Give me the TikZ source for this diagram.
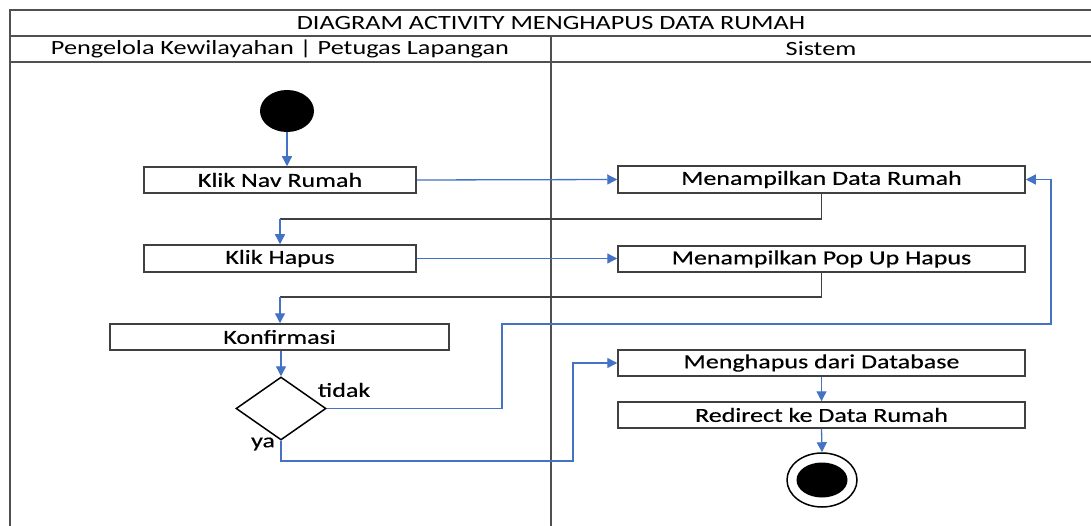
\documentclass[tikz,border=0pt]{standalone}
\usepackage{fontspec}
\setmainfont{Carlito}[FakeStretch=1.3]
\newfontfamily\actfont{Carlito}[FakeStretch=1.3,FakeBold=0.4]
\usetikzlibrary{arrows.meta,shapes.geometric}
\definecolor{flowblue}{HTML}{4472C4}
\definecolor{lanegray}{HTML}{505050}
\definecolor{boxgray}{HTML}{404040}
\tikzset{
  lane/.style={draw=lanegray,line width=1.5pt},
  act/.style={draw=boxgray,line width=1.5pt,fill=white,inner sep=0pt,
    font=\actfont\fontsize{20}{22}\selectfont,text=black},
  flow/.style={draw=flowblue,line width=1.3pt,-{Triangle[length=10pt,width=10pt]}},
  joinline/.style={draw=boxgray,line width=1.3pt},
  hdr/.style={font=\fontsize{20.2}{22}\selectfont,text=black},
  guard/.style={font=\actfont\fontsize{20}{22}\selectfont,text=black}
}
\begin{document}
\begin{tikzpicture}[x=1pt,y=-1pt]
\useasboundingbox (0,0) rectangle (1091,526);
% swimlane frame
\draw[lane] (1091,10) -- (10,10) -- (10,526);
\draw[lane] (10,36) -- (1091,36);
\draw[lane] (10,62) -- (1091,62);
\draw[lane] (551,36) -- (551,526);
\node[hdr] (title) at (551,23) {DIAGRAM ACTIVITY MENGHAPUS DATA RUMAH};
\node[hdr] (laneA) at (280,49) {Pengelola Kewilayahan | Petugas Lapangan};
\node[hdr] (laneB) at (821,49) {Sistem};

% start / end
\node[ellipse,fill=black,minimum width=54pt,minimum height=42pt,inner sep=0pt] (start) at (287,111) {};
\node[ellipse,draw=black,line width=1.5pt,fill=white,minimum width=70pt,minimum height=54pt,inner sep=0pt] (endo) at (822,480) {};
\node[ellipse,fill=black,minimum width=51pt,minimum height=35pt,inner sep=0pt] (end) at (822,480) {};

% actions
\node[act,minimum width=272pt,minimum height=26pt] (nav) at (280,180) {Klik Nav Rumah};
\node[act,minimum width=272pt,minimum height=27pt] (hapus) at (280,258.5) {Klik Hapus};
\node[act,minimum width=339pt,minimum height=26pt] (konf) at (279.5,337) {Konfirmasi};
\node[diamond,draw=black,line width=1.5pt,fill=white,minimum width=90pt,minimum height=63pt,inner sep=0pt] (dec) at (281,408.5) {};
\node[act,minimum width=407pt,minimum height=27pt] (tampil) at (821.5,179.5) {Menampilkan Data Rumah};
\node[act,minimum width=407pt,minimum height=26pt] (popup) at (821.5,259) {Menampilkan Pop Up Hapus};
\node[act,minimum width=407pt,minimum height=26pt] (hapusdb) at (821.5,363) {Menghapus dari Database};
\node[act,minimum width=407pt,minimum height=26pt] (redir) at (821.5,415) {Redirect ke Data Rumah};

% guards
\node[guard] (tidak) at (344,390) {tidak};
\node[guard] (ya) at (263,444) {ya};

% bend points
\coordinate (j1) at (280,219);
\coordinate (j2) at (280,297);
\coordinate (t1) at (502,408.5);
\coordinate (t2) at (502,324);
\coordinate (t3) at (1051,324);
\coordinate (t4) at (1051,179.5);
\coordinate (y1) at (281,461);
\coordinate (y2) at (573,461);
\coordinate (y3) at (573,363);

% connectors
\draw[flow] (start.south) -- (start.south |- nav.north);
\draw[flow] (nav.east) -- (tampil.west);
\draw[joinline] (tampil.south) |- (j1);
\draw[flow] (j1) -- (hapus.north -| j1);
\draw[flow] (hapus.east) -- (hapus.east -| popup.west);
\draw[joinline] (popup.south) |- (j2);
\draw[flow] (j2) -- (konf.north -| j2);
\draw[flow] (konf.south -| dec.north) -- (dec.north);
\draw[flow] (dec.east) -- (t1) -- (t2) -- (t3) -- (t4) -- (tampil.east);
\draw[flow] (dec.south) -- (y1) -- (y2) -- (y3) -- (hapusdb.west);
\draw[flow] (hapusdb.south) -- (redir.north);
\draw[flow] (redir.south) -- (endo.north);
\end{tikzpicture}
\end{document}
